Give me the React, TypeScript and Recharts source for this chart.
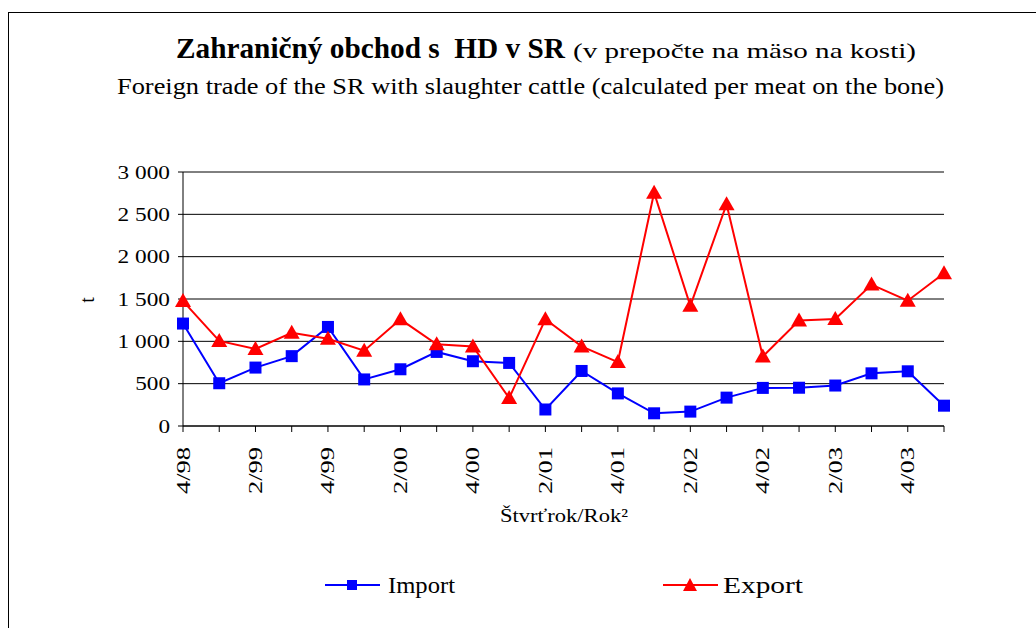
import React from "react";
import { LineChart, Line, XAxis, YAxis, CartesianGrid } from "recharts";

const quarters = [
  "4/98", "1/99", "2/99", "3/99", "4/99", "1/00", "2/00", "3/00", "4/00", "1/01", "2/01",
  "3/01", "4/01", "1/02", "2/02", "3/02", "4/02", "1/03", "2/03", "3/03", "4/03", "1/04",
];
const importValues = [
  1210, 505, 690, 825, 1170, 550, 670, 875, 765, 745, 195,
  650, 385, 150, 170, 335, 450, 452, 478, 622, 646, 240,
];
const exportValues = [
  1475, 1005, 910, 1100, 1030, 890, 1260, 965, 940, 330, 1260,
  940, 755, 2755, 1420, 2620, 820, 1245, 1265, 1670, 1480, 1805,
];
const yTicks = [0, 500, 1000, 1500, 2000, 2500, 3000];

const data = quarters.map((q, i) => ({ q, imp: importValues[i], exp: exportValues[i] }));

const SERIF = "'Liberation Serif', 'Times New Roman', 'DejaVu Serif', serif";

const fmt = (v: number) =>
  v >= 1000 ? `${Math.floor(v / 1000)} ${String(v % 1000).padStart(3, "0")}` : String(v);

function SquareDot(props: any) {
  const { cx, cy } = props;
  if (cx == null || cy == null) return null;
  return <rect x={cx - 6} y={cy - 6} width={12} height={12} fill="#0000FF" stroke="none" />;
}

function TriangleDot(props: any) {
  const { cx, cy } = props;
  if (cx == null || cy == null) return null;
  return <polygon points={`${cx},${cy - 8} ${cx + 8},${cy + 6} ${cx - 8},${cy + 6}`} fill="#FF0000" stroke="none" />;
}

function XTick(props: any) {
  const { x, y, payload, index } = props;
  if (index % 2 !== 0) return null;
  const ty = y + 13;
  return (
    <text
      x={x}
      y={ty}
      transform={`rotate(-90, ${x}, ${ty})`}
      textAnchor="end"
      dominantBaseline="central"
      fontFamily={SERIF}
      fontSize={19}
      textLength={47}
      lengthAdjust="spacingAndGlyphs"
      fill="#000"
    >
      {payload.value}
    </text>
  );
}

function YTick(props: any) {
  const { x, y, payload } = props;
  const s = fmt(payload.value);
  const digits = s.replace(/ /g, "").length;
  const len = digits * 11.6 + (s.includes(" ") ? 6 : 0);
  return (
    <text
      x={x}
      y={y}
      textAnchor="end"
      dominantBaseline="central"
      fontFamily={SERIF}
      fontSize={19}
      textLength={len}
      lengthAdjust="spacingAndGlyphs"
      fill="#000"
    >
      {s}
    </text>
  );
}

export default function App() {
  return (
    <div style={{ position: "absolute", left: 0, top: 0, width: 1036, height: 628, background: "#fff", fontFamily: SERIF }}>
      <div style={{ position: "absolute", left: 8, top: 12, width: 1028, height: 616, borderLeft: "1px solid #000", borderTop: "1px solid #000" }} />
      <div style={{ position: "absolute", left: 0, top: 0 }}>
        <LineChart width={1036} height={628} data={data} margin={{ top: 172, right: 92, left: 123, bottom: 132 }}>
          <CartesianGrid vertical={false} stroke="#000" strokeWidth={1} />
          <XAxis
            dataKey="q"
            interval={0}
            height={70}
            tick={<XTick />}
            tickSize={6}
            axisLine={{ stroke: "#000" }}
            tickLine={{ stroke: "#000" }}
          />
          <YAxis
            width={60}
            domain={[0, 3000]}
            ticks={yTicks}
            tickSize={5}
            tickMargin={8}
            axisLine={{ stroke: "#000" }}
            tickLine={{ stroke: "#000" }}
            tick={<YTick />}
          />
          <Line
            type="linear"
            dataKey="imp"
            name="Import"
            stroke="#0000FF"
            strokeWidth={2}
            dot={<SquareDot />}
            activeDot={false}
            isAnimationActive={false}
          />
          <Line
            type="linear"
            dataKey="exp"
            name="Export"
            stroke="#FF0000"
            strokeWidth={2}
            dot={<TriangleDot />}
            activeDot={false}
            isAnimationActive={false}
          />
        </LineChart>
      </div>
      <svg width={1036} height={628} style={{ position: "absolute", left: 0, top: 0, pointerEvents: "none" }} fontFamily={SERIF} fill="#000">
        <text x={176} y={58} fontSize={29} fontWeight="bold" textLength={389} lengthAdjust="spacingAndGlyphs">
          {"Zahraničný obchod s\u00A0 HD v SR"}
        </text>
        <text x={573} y={58} fontSize={22} textLength={343} lengthAdjust="spacingAndGlyphs">
          (v prepočte na mäso na kosti)
        </text>
        <text x={117} y={94} fontSize={24} textLength={827} lengthAdjust="spacingAndGlyphs">
          Foreign trade of the SR with slaughter cattle (calculated per meat on the bone)
        </text>
        <text x={94} y={300} fontSize={20} textAnchor="middle" transform="rotate(-90, 94, 300)">t</text>
        <text x={500} y={522} fontSize={19} textLength={128} lengthAdjust="spacingAndGlyphs">
          Štvrťrok/Rok²
        </text>
        <line x1={325} y1={585} x2={380} y2={585} stroke="#0000FF" strokeWidth={2} />
        <rect x={347} y={580} width={10} height={10} fill="#0000FF" />
        <text x={388} y={593} fontSize={24} textLength={67} lengthAdjust="spacingAndGlyphs">Import</text>
        <line x1={663} y1={585} x2={718} y2={585} stroke="#FF0000" strokeWidth={2} />
        <polygon points="690,578 697,591 683,591" fill="#FF0000" />
        <text x={723} y={593} fontSize={24} textLength={80} lengthAdjust="spacingAndGlyphs">Export</text>
      </svg>
    </div>
  );
}
